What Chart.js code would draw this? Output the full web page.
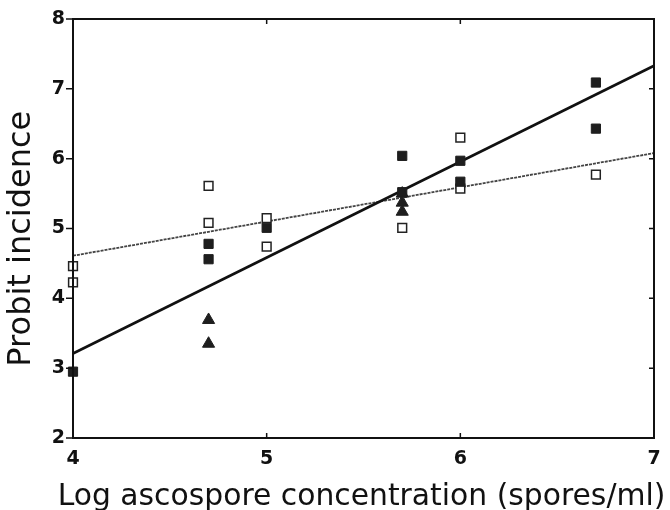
<!DOCTYPE html>
<html>
<head>
<meta charset="utf-8">
<script src="https://cdn.jsdelivr.net/npm/chart.js@4"></script>
<style>
  html, body { margin: 0; padding: 0; background: #fff; }
  #wrap { width: 670px; height: 510px; }
</style>
</head>
<body>
<div id="wrap"><canvas id="c" width="670" height="510"></canvas></div>
<script>
// Data
const openX   = [4, 4, 4.7, 4.7, 5, 5, 5.7, 6, 6, 6.7];
const openY   = [4.46, 4.23, 5.61, 5.08, 5.15, 4.74, 5.01, 6.30, 5.57, 5.77];
const filledX = [4, 4.7, 4.7, 5, 5.7, 5.7, 6, 6, 6.7, 6.7];
const filledY = [2.95, 4.78, 4.56, 5.01, 6.04, 5.52, 5.97, 5.67, 7.09, 6.43];
const triX    = [4.7, 4.7, 5.7, 5.7, 5.7];
const triY    = [3.69, 3.35, 5.50, 5.37, 5.24];
const solidLineX  = [4, 7];
const solidLineY  = [3.21, 7.33];
const dottedLineX = [4, 7];
const dottedLineY = [4.61, 6.08];
const xTicks = [4, 5, 6, 7];
const yTicks = [2, 3, 4, 5, 6, 7, 8];
const xTitle = "Log ascospore concentration (spores/ml)";
const yTitle = "Probit incidence  ";

const pts = (xs, ys) => xs.map((x, i) => ({ x: x, y: ys[i] }));

const frame = {
  id: 'frame',
  afterDatasetsDraw(chart) {
    const { ctx, chartArea: a, scales: { x, y } } = chart;
    ctx.save();
    ctx.strokeStyle = '#111';
    ctx.lineWidth = 2;
    ctx.strokeRect(a.left, a.top, a.right - a.left, a.bottom - a.top);
    ctx.lineWidth = 1.5;
    ctx.beginPath();
    // left axis: outward ticks
    yTicks.forEach(v => { const p = y.getPixelForValue(v); ctx.moveTo(a.left - 7, p); ctx.lineTo(a.left, p); });
    // right axis: inward ticks
    yTicks.slice(1, -1).forEach(v => { const p = y.getPixelForValue(v); ctx.moveTo(a.right - 5, p); ctx.lineTo(a.right, p); });
    // bottom and top: inward ticks
    xTicks.slice(1, -1).forEach(v => {
      const p = x.getPixelForValue(v);
      ctx.moveTo(p, a.bottom); ctx.lineTo(p, a.bottom - 5);
      ctx.moveTo(p, a.top); ctx.lineTo(p, a.top + 5);
    });
    ctx.stroke();
    ctx.restore();
  },
  afterDraw(chart) {
    // x-axis title, wider than the axis itself as in the reference
    const { ctx, chartArea: a } = chart;
    ctx.save();
    ctx.fillStyle = '#111';
    ctx.font = 'normal 29.8px "DejaVu Sans"';
    ctx.textAlign = 'center';
    ctx.textBaseline = 'alphabetic';
    ctx.fillText(xTitle, (a.left + a.right) / 2 - 2, 505);
    ctx.restore();
  }
};

new Chart(document.getElementById('c'), {
  type: 'scatter',
  data: {
    datasets: [
      { label: 'fit steep', data: pts(solidLineX, solidLineY), showLine: true,
        borderColor: '#111', borderWidth: 2.6, pointRadius: 0, order: 5 },
      { label: 'fit shallow', data: pts(dottedLineX, dottedLineY), showLine: true,
        borderColor: '#444', borderWidth: 1.8, borderDash: [3, 1], pointRadius: 0, order: 6 },
      { label: 'open', data: pts(openX, openY), pointStyle: 'rect', pointRadius: 6.2,
        backgroundColor: '#fff', borderColor: '#222', borderWidth: 1.5, order: 3 },
      { label: 'filled', data: pts(filledX, filledY), pointStyle: 'rect', pointRadius: 6.5,
        backgroundColor: '#1e1e1e', borderColor: '#1e1e1e', borderWidth: 1, order: 2 },
      { label: 'triangle', data: pts(triX, triY), pointStyle: 'triangle', pointRadius: 7,
        backgroundColor: '#1e1e1e', borderColor: '#1e1e1e', borderWidth: 1, order: 1 }
    ]
  },
  options: {
    responsive: false,
    animation: false,
    clip: false,
    layout: { padding: { left: 0, right: 16, top: 19, bottom: 0 } },
    plugins: { legend: { display: false }, tooltip: { enabled: false } },
    scales: {
      x: {
        type: 'linear', min: 4, max: 7,
        afterBuildTicks: s => { s.ticks = xTicks.map(v => ({ value: v })); },
        afterFit: s => { s.height = 72; },
        grid: { display: false }, border: { display: false },
        ticks: { color: '#111', padding: 2, font: { family: 'DejaVu Sans', size: 19, weight: 'bold' } },
        title: { display: false, text: xTitle }
      },
      y: {
        type: 'linear', min: 2, max: 8,
        afterBuildTicks: s => { s.ticks = yTicks.map(v => ({ value: v })); },
        afterFit: s => { s.width = 73; },
        grid: { display: false }, border: { display: false },
        ticks: { color: '#111', padding: 0, font: { family: 'DejaVu Sans', size: 19, weight: 'bold' } },
        title: { display: true, text: yTitle, color: '#111', padding: { top: 4, bottom: 0 },
                 font: { family: 'DejaVu Sans', size: 32, lineHeight: 1.1 } }
      }
    }
  },
  plugins: [frame]
});
</script>
</body>
</html>
